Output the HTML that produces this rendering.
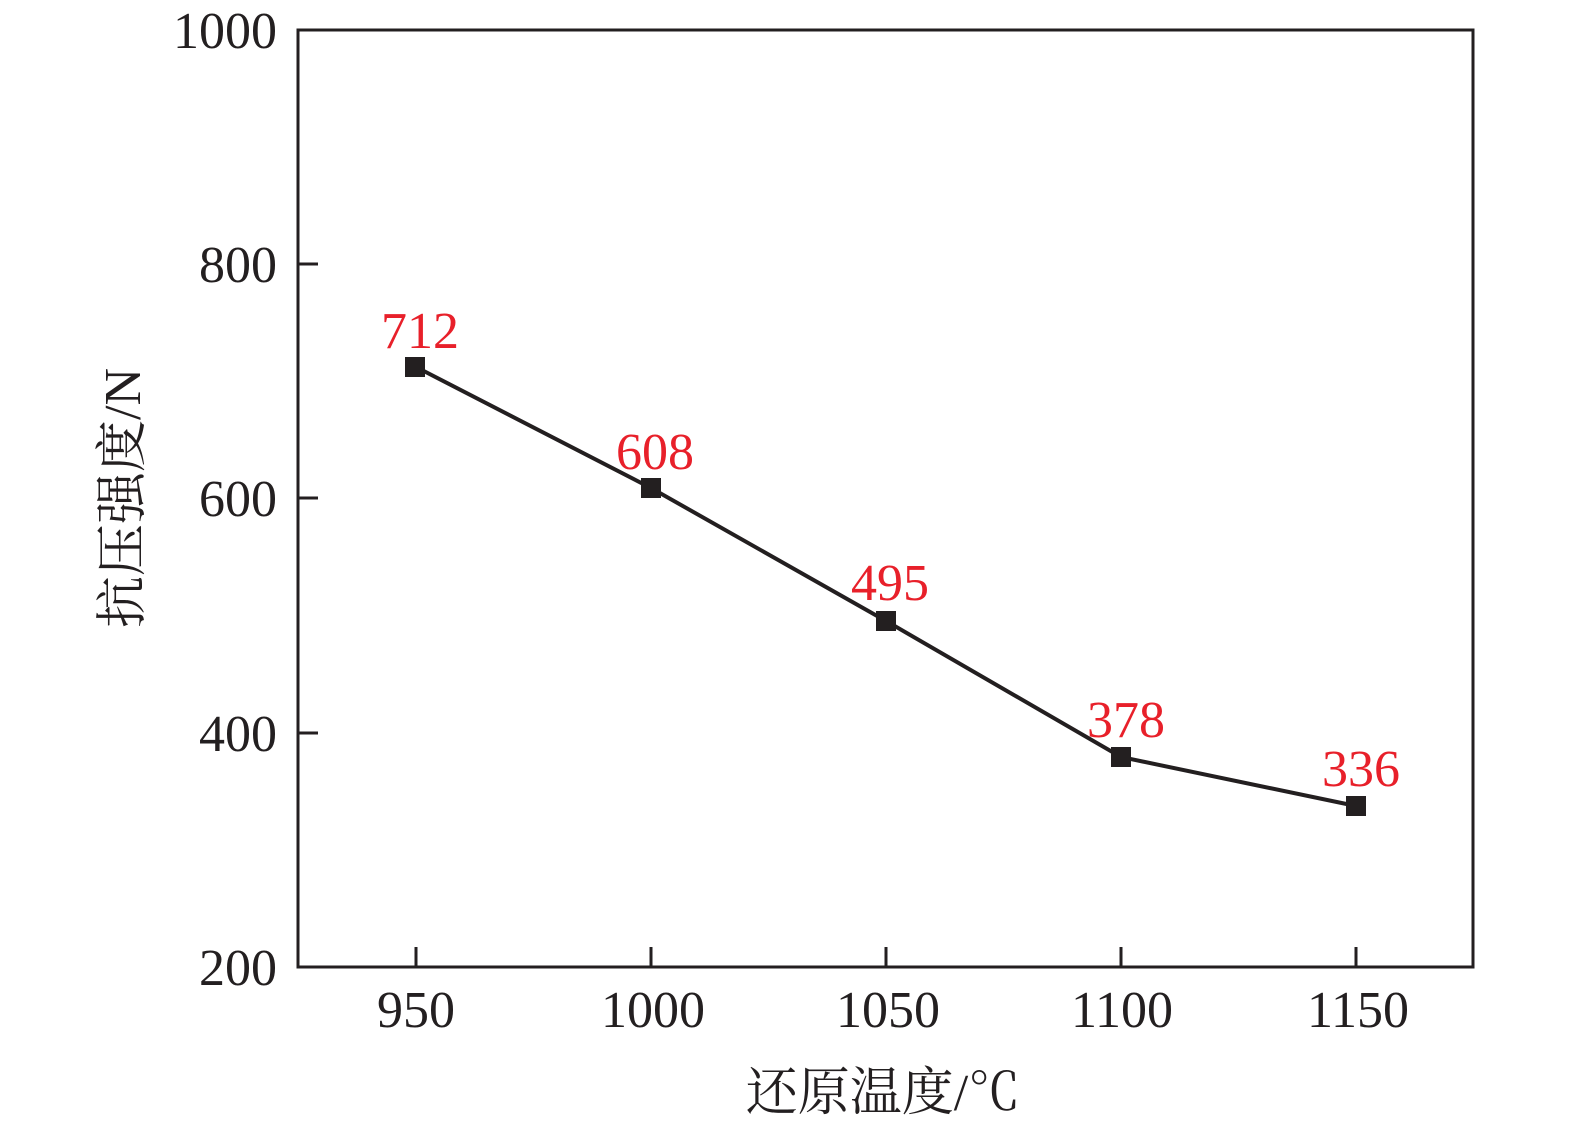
<!DOCTYPE html>
<html><head><meta charset="utf-8"><style>body{margin:0;background:#fff}</style></head><body>
<svg width="1575" height="1133" xmlns="http://www.w3.org/2000/svg" font-family="Liberation Serif, Noto Serif CJK SC, serif">
<rect x="298" y="30" width="1175" height="937" fill="none" stroke="#231f20" stroke-width="3"/>
<g stroke="#231f20" stroke-width="3">
<line x1="298" y1="264" x2="318" y2="264"/><line x1="298" y1="498" x2="318" y2="498"/><line x1="298" y1="733" x2="318" y2="733"/>
<line x1="416" y1="967" x2="416" y2="947"/><line x1="651" y1="967" x2="651" y2="947"/><line x1="886" y1="967" x2="886" y2="947"/><line x1="1121" y1="967" x2="1121" y2="947"/><line x1="1356" y1="967" x2="1356" y2="947"/>
</g>
<g font-size="52" fill="#231f20" text-anchor="end">
<text x="277" y="985">200</text><text x="277" y="751">400</text><text x="277" y="516">600</text><text x="277" y="282">800</text><text x="277" y="48">1000</text>
</g>
<g font-size="52" fill="#231f20" text-anchor="middle">
<text x="416" y="1027">950</text><text x="653" y="1027">1000</text><text x="888" y="1027">1050</text><text x="1122" y="1027">1100</text><text x="1358" y="1027">1150</text>
</g>
<text x="883" y="1110" font-size="52" text-anchor="middle" fill="#231f20">还原温度/℃</text>
<text transform="translate(140,498) rotate(-90)" font-size="52" text-anchor="middle" fill="#231f20">抗压强度/N</text>
<polyline points="416,367 651,488 886,621 1121,757 1356,806" fill="none" stroke="#231f20" stroke-width="4"/>
<g fill="#231f20">
<rect x="405" y="357" width="20" height="20"/><rect x="641" y="478" width="20" height="20"/><rect x="876" y="611" width="20" height="20"/><rect x="1111" y="747" width="20" height="20"/><rect x="1346" y="796" width="20" height="20"/>
</g>
<g font-size="52" fill="#e8202a" text-anchor="middle">
<text x="420" y="348">712</text><text x="655" y="469">608</text><text x="890" y="600">495</text><text x="1126" y="737">378</text><text x="1361" y="786">336</text>
</g>
</svg>
</body></html>
